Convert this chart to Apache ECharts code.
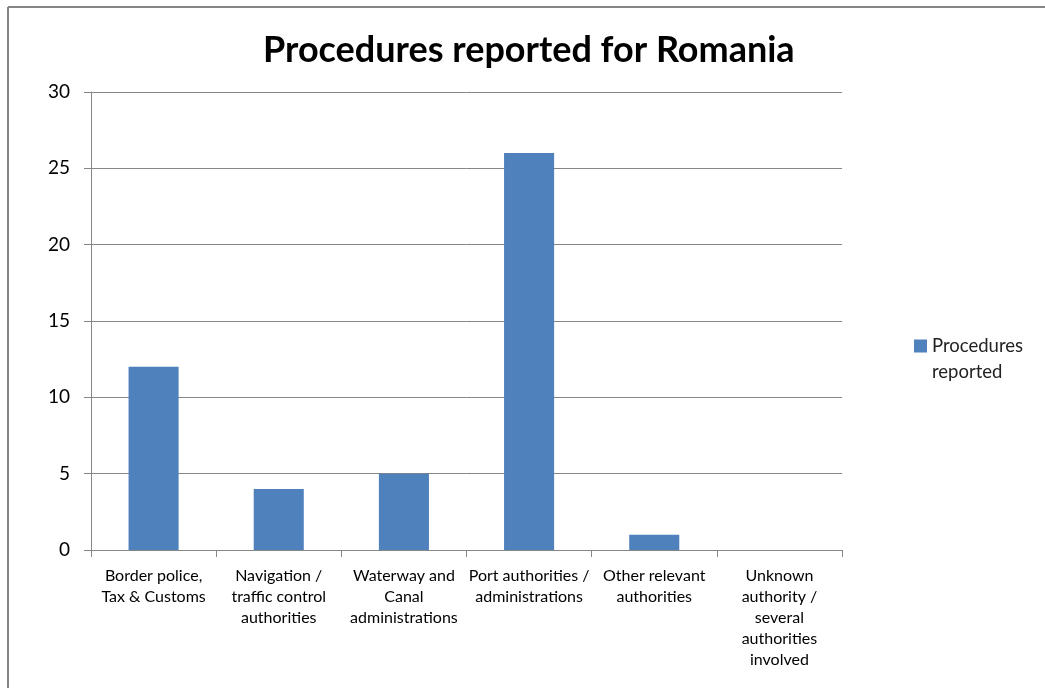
<!DOCTYPE html>
<html><head><meta charset="utf-8">
<script src="https://cdn.jsdelivr.net/npm/echarts@6/dist/echarts.min.js"></script>
<style>html,body{margin:0;padding:0;background:#fff}#c{width:1045px;height:688px}</style>
</head><body><div id="c"></div>
<script>
const title = 'Procedures reported for Romania';
const seriesName = 'Procedures reported';
const categories = [
  'Border police,\nTax & Customs',
  'Navigation /\ntraffic control\nauthorities',
  'Waterway and\nCanal\nadministrations',
  'Port authorities /\nadministrations',
  'Other relevant\nauthorities',
  'Unknown\nauthority /\nseveral\nauthorities\ninvolved'
];
const values = [12, 4, 5, 26, 1, 0];
const yTicks = {min: 0, max: 30, interval: 5};

const FONT = 'Lato, "Open Sans", sans-serif';
const chart = echarts.init(document.getElementById('c'), null, {renderer: 'canvas'});
chart.setOption({
  animation: false,
  backgroundColor: '#fff',
  title: {
    text: title, left: 258, top: 27,
    textStyle: {fontFamily: FONT, fontSize: 36, fontWeight: 'bold', color: '#000'}
  },
  graphic: [
    {type: 'line', shape: {x1: 8, y1: 7, x2: 1045, y2: 7}, style: {stroke: '#868686', lineWidth: 2}},
    {type: 'line', shape: {x1: 8, y1: 7, x2: 8, y2: 688}, style: {stroke: '#868686', lineWidth: 2}}
  ],
  legend: {
    data: [seriesName], left: 914, top: 307, orient: 'vertical', padding: 0,
    icon: 'rect', itemWidth: 13, itemHeight: 13, itemGap: 5,
    formatter: () => ' \nProcedures\nreported',
    textStyle: {fontFamily: FONT, fontSize: 18.5, color: '#222', lineHeight: 26}
  },
  grid: {left: 91, right: 203, top: 92, bottom: 138, containLabel: false},
  xAxis: {
    type: 'category', data: categories,
    axisLine: {lineStyle: {color: '#868686', width: 1}},
    axisTick: {show: true, length: 7, alignWithLabel: false, lineStyle: {color: '#868686'}},
    axisLabel: {interval: 0, margin: 15, fontFamily: FONT, fontSize: 16, lineHeight: 21, color: '#000'}
  },
  yAxis: {
    type: 'value', min: yTicks.min, max: yTicks.max, interval: yTicks.interval,
    axisLine: {show: true, lineStyle: {color: '#868686'}},
    axisTick: {show: true, length: 7, lineStyle: {color: '#868686'}},
    axisLabel: {margin: 21, fontFamily: FONT, fontSize: 19, color: '#000'},
    splitLine: {lineStyle: {color: '#868686', width: 1}}
  },
  series: [{
    name: seriesName, type: 'bar', data: values, barWidth: '40%',
    itemStyle: {color: '#4F81BD'}
  }]
});
</script></body></html>
